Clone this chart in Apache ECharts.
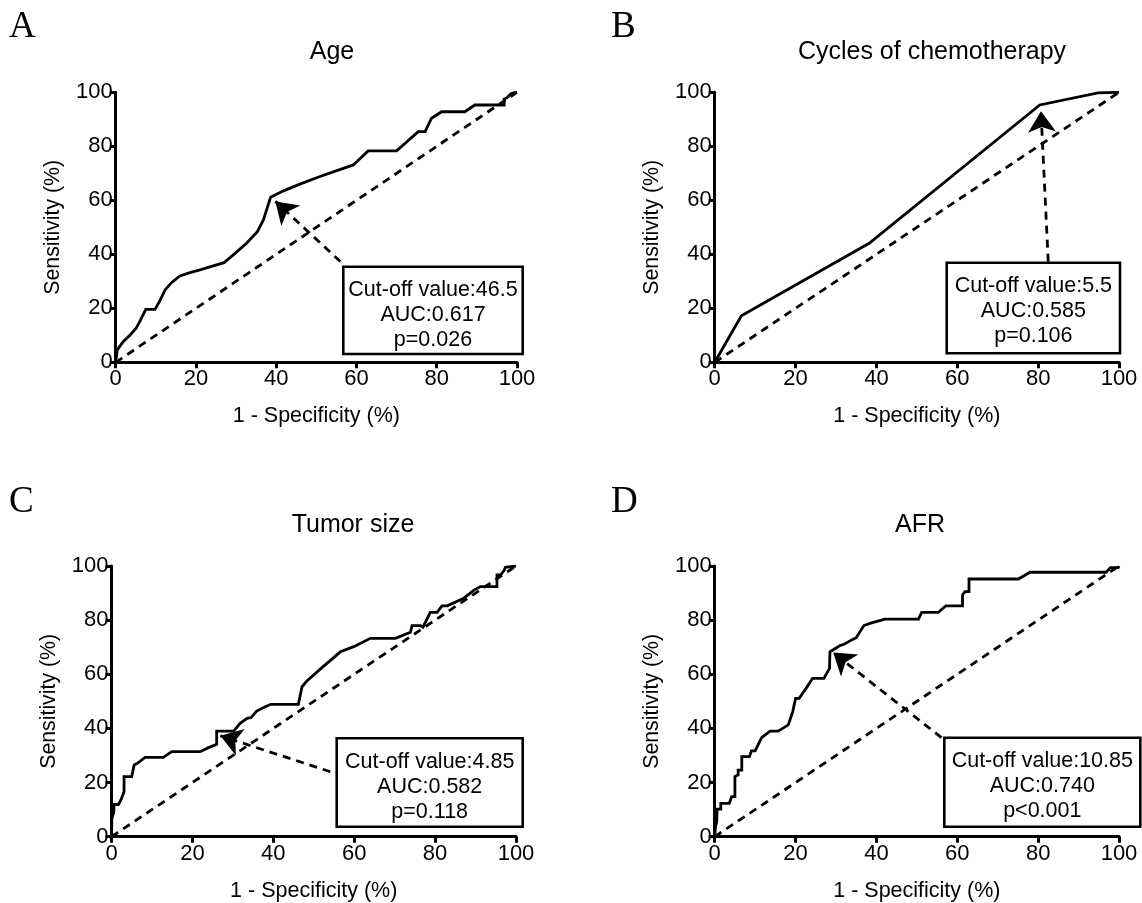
<!DOCTYPE html>
<html>
<head>
<meta charset="utf-8">
<script src="https://cdn.jsdelivr.net/npm/echarts@6/dist/echarts.min.js"></script>
<style>
html,body{margin:0;padding:0;background:#fff;}
#chart{width:1142px;height:903px;}
</style>
</head>
<body>
<div id="chart"></div>
<script>
// ---------- data ----------
const panelLetters = ['A', 'B', 'C', 'D'];
const panelTitles = ['Age', 'Cycles of chemotherapy', 'Tumor size', 'AFR'];
const xAxisTitle = '1 - Specificity (%)';
const yAxisTitle = 'Sensitivity (%)';

const ageCurve = [[0,0],[0.4,4.6],[1.9,7.7],[3.6,10.1],[5.1,12.6],[6.2,15.7],[7.5,19.6],[9.8,19.6],[10.9,22.5],[12.3,26.8],[13.9,29.5],[16.0,32.0],[18.5,33.2],[21.0,34.2],[24.3,35.7],[27.0,36.9],[29.3,39.8],[32.6,44.1],[35.3,48.4],[36.8,52.7],[38.6,61.1],[41.8,63.5],[45.9,66.0],[50.9,68.8],[59.2,73.1],[62.9,78.3],[70.0,78.3],[75.4,85.4],[77.1,85.4],[78.7,90.4],[81.2,92.8],[87.0,92.8],[89.5,95.3],[96.8,95.3],[96.8,97.5],[97.5,98.0],[98.5,99.5],[99.2,99.8],[100,100]];
const cyclesCurve = [[0,0],[6.6,17.2],[38.2,44.1],[80.4,95.3],[94.8,99.8],[100,100]];
const tumorCurve = [[0,0],[0.1,6.8],[0.6,9.2],[0.6,11.9],[1.7,11.9],[2.3,13.5],[3.1,16.6],[3.1,22.2],[5.0,22.2],[5.6,26.5],[6.4,27.1],[8.3,29.3],[12.8,29.3],[14.9,31.4],[21.9,31.4],[24.0,32.9],[26.0,34.1],[26.0,39.0],[30.2,39.0],[31.8,41.9],[33.5,43.7],[34.5,44.0],[35.9,46.4],[38.0,48.0],[39.4,48.9],[46.2,48.9],[47.1,55.4],[48.3,57.5],[51.6,61.9],[56.6,68.3],[59.9,70.2],[64.0,73.3],[70.2,73.3],[73.9,75.5],[74.3,78.0],[76.4,78.0],[77.0,77.4],[78.8,82.9],[80.5,82.9],[81.7,85.3],[83.0,85.3],[87.1,88.1],[89.6,91.1],[91.2,92.4],[95.3,92.4],[95.3,96.7],[96.2,96.7],[97.0,98.2],[97.4,99.5],[100,100]];
const afrCurve = [[0,0],[0.2,3.7],[0.5,5.5],[0.6,10.2],[1.5,10.2],[1.5,12.3],[3.6,12.3],[4.2,14.8],[5.0,14.8],[5.0,22.2],[5.8,22.8],[5.8,24.6],[6.7,24.6],[6.7,29.6],[8.6,29.6],[9.1,31.7],[10.0,31.7],[11.6,36.6],[13.7,39.0],[15.7,39.0],[18.2,41.3],[19.3,46.2],[20.0,51.1],[20.9,51.1],[22.6,54.8],[24.2,58.5],[27.0,58.5],[28.4,62.2],[28.5,68.3],[31.0,70.6],[32.0,71.1],[33.9,72.7],[35.0,73.5],[36.9,78.0],[38.4,78.8],[42.1,80.4],[50.4,80.4],[51.2,82.9],[55.3,82.9],[57.2,85.3],[61.3,85.3],[61.3,89.3],[61.9,90.5],[62.9,90.5],[62.9,95.2],[75.1,95.2],[78.0,97.7],[96.8,97.7],[97.1,98.4],[97.9,99.4],[99.8,99.4],[100,100]];
const referenceLine = [[0,0],[100,100]];

// arrows: [tail, tip] in data units
const ageArrow = [[56,37.3],[39.8,59.6]];
const cyclesArrow = [[82.5,37.3],[80.7,93.0]];
const tumorArrow = [[54.1,24.0],[26.9,37.3]];
const afrArrow = [[56.1,36.6],[29.3,68.0]];

const boxTexts = [
  ['Cut-off value:46.5', 'AUC:0.617', 'p=0.026'],
  ['Cut-off value:5.5', 'AUC:0.585', 'p=0.106'],
  ['Cut-off value:4.85', 'AUC:0.582', 'p=0.118'],
  ['Cut-off value:10.85', 'AUC:0.740', 'p<0.001']
];

// ---------- layout ----------
const FONT = '"Liberation Sans", Arial, sans-serif';
const SERIF = '"Liberation Serif", "Times New Roman", serif';
const grids = [
  {left: 115.7, top: 92.3, width: 401.3, height: 270},
  {left: 714.7, top: 92.3, width: 404.3, height: 270},
  {left: 111.5, top: 566, width: 404.5, height: 270.7},
  {left: 714.7, top: 566, width: 404.3, height: 270.7}
];
const letterPos = [[9, 9], [611, 9], [9, 484], [611, 484]];
const titlePos = [[332, 52], [932, 52], [353, 525], [920, 525]];
const boxes = [
  {x: 343.3, y: 266.7, w: 179.4, h: 87.3},
  {x: 946.7, y: 262.7, w: 173.3, h: 90.6},
  {x: 336.7, y: 738.3, w: 186, h: 88.4},
  {x: 944.3, y: 737.7, w: 196, h: 89}
];
const curves = [ageCurve, cyclesCurve, tumorCurve, afrCurve];
const arrows = [ageArrow, cyclesArrow, tumorArrow, afrArrow];

const chart = echarts.init(document.getElementById('chart'), null, {renderer: 'canvas'});

const xAxes = [], yAxes = [], series = [], graphics = [];
grids.forEach((g, i) => {
  xAxes.push({
    type: 'value', gridIndex: i, min: 0, max: 100, interval: 20,
    axisLine: {show: true, onZero: false, lineStyle: {color: '#000', width: 3}},
    axisTick: {show: true, length: 6, lineStyle: {color: '#000', width: 3}},
    axisLabel: {color: '#000', fontSize: 22, fontFamily: FONT, margin: 6},
    splitLine: {show: false},
    name: xAxisTitle, nameLocation: 'middle', nameGap: 43,
    nameTextStyle: {color: '#000', fontSize: 21.5, fontFamily: FONT}
  });
  yAxes.push({
    type: 'value', gridIndex: i, min: 0, max: 100, interval: 20,
    axisLine: {show: true, onZero: false, lineStyle: {color: '#000', width: 3}},
    axisTick: {show: true, length: 6, lineStyle: {color: '#000', width: 3}},
    axisLabel: {color: '#000', fontSize: 22, fontFamily: FONT, margin: 3},
    splitLine: {show: false},
    name: yAxisTitle, nameLocation: 'middle', nameGap: 52,
    nameTextStyle: {color: '#000', fontSize: 21.3, fontFamily: FONT}
  });
  series.push({
    type: 'line', xAxisIndex: i, yAxisIndex: i, data: referenceLine,
    showSymbol: false, silent: true, z: 2,
    lineStyle: {color: '#000', width: 2.8, type: [8, 6]}
  });
  series.push({
    type: 'line', xAxisIndex: i, yAxisIndex: i, data: curves[i],
    showSymbol: false, silent: true, z: 3,
    lineStyle: {color: '#000', width: 2.8, join: 'miter'}
  });
  series.push({
    type: 'lines', coordinateSystem: 'cartesian2d', xAxisIndex: i, yAxisIndex: i,
    data: [{coords: arrows[i]}], silent: true, z: 4,
    symbol: ['none', 'arrow'], symbolSize: 21,
    lineStyle: {color: '#000', width: 2.8, type: [8, 6], opacity: 1}
  });

  graphics.push({type: 'text', x: letterPos[i][0], y: letterPos[i][1],
    style: {text: panelLetters[i], font: '37px ' + SERIF, fill: '#000', textVerticalAlign: 'top'}});
  graphics.push({type: 'text', x: titlePos[i][0], y: titlePos[i][1],
    style: {text: panelTitles[i], font: '25px ' + FONT, fill: '#000', textAlign: 'center', textVerticalAlign: 'middle'}});
  const b = boxes[i];
  graphics.push({type: 'rect', shape: {x: b.x, y: b.y, width: b.w, height: b.h}, z: 10,
    style: {fill: '#fff', stroke: '#000', lineWidth: 2.6}});
  boxTexts[i].forEach((t, k) => {
    graphics.push({type: 'text', x: b.x + b.w / 2, y: b.y + 23.5 + 25 * k, z: 11,
      style: {text: t, font: '21.5px ' + FONT, fill: '#000', textAlign: 'center', textVerticalAlign: 'middle'}});
  });
});

chart.setOption({
  backgroundColor: '#fff',
  animation: false,
  grid: grids.map(g => Object.assign({containLabel: false}, g)),
  xAxis: xAxes,
  yAxis: yAxes,
  series: series,
  graphic: graphics
});
</script>
</body>
</html>
